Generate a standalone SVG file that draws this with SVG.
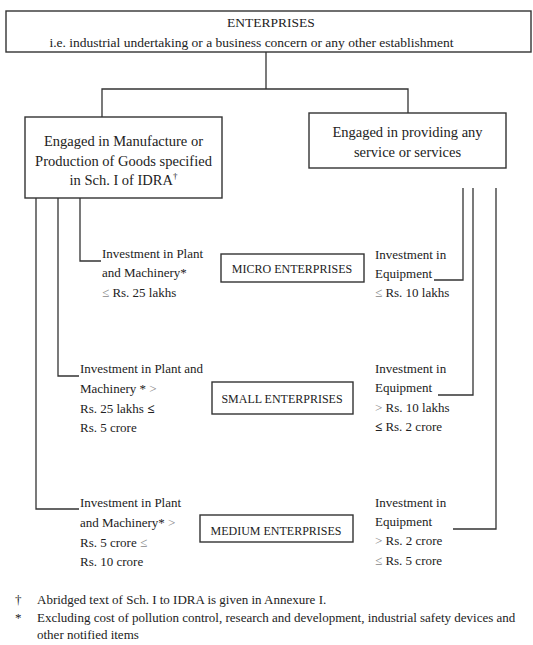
<svg xmlns="http://www.w3.org/2000/svg" width="533" height="645" viewBox="0 0 533 645">
<style>
text{font-family:"Liberation Serif","Times New Roman",serif;fill:#222}
.box{fill:#fff;stroke:#333;stroke-width:1.4}
.ln{fill:none;stroke:#333;stroke-width:1.3}
.bx{font-size:14.5px;text-anchor:middle}
.top{font-size:13.5px;text-anchor:middle}
.mid{font-size:12px;text-anchor:middle}
.lbl{font-size:13px}
.ft{font-size:13px}
.g{fill:#888}
.b{font-weight:bold}
</style>
<rect width="533" height="645" fill="#fff"/>
<g id="connectors">
<polyline class="ln" points="266,52 266,89"/>
<polyline class="ln" points="102,117 102,89 408,89 408,113"/>
<polyline class="ln" points="80,198 80,261 101,261"/>
<polyline class="ln" points="58,198 58,376 79,376"/>
<polyline class="ln" points="36,198 36,509 79,509"/>
<polyline class="ln" points="463,188 463,280 434,280"/>
<polyline class="ln" points="473,188 473,395 438,395"/>
<polyline class="ln" points="496,188 496,529 453,529"/>
</g>
<g id="enterprises">
<rect class="box" x="6" y="11" width="525" height="41"/>
<text class="top" x="271" y="27">ENTERPRISES</text>
<text class="top" x="251.5" y="47">i.e. industrial undertaking or a business concern or any other establishment</text>
</g>
<g id="manufacture">
<rect class="box" x="25" y="117" width="197" height="81"/>
<text class="bx" x="123.5" y="146">Engaged in Manufacture or</text>
<text class="bx" x="123.5" y="166">Production of Goods specified</text>
<text class="bx" x="123.5" y="185">in Sch. I of IDRA<tspan font-size="9" dy="-6">†</tspan></text>
</g>
<g id="services">
<rect class="box" x="309" y="113" width="197" height="55"/>
<text class="bx" x="407.5" y="137">Engaged in providing any</text>
<text class="bx" x="407.5" y="157">service or services</text>
</g>
<g id="micro">
<rect class="box" x="221" y="254" width="143" height="28"/>
<text class="mid" x="292" y="273">MICRO ENTERPRISES</text>
</g>
<g id="small">
<rect class="box" x="212" y="382" width="141" height="32"/>
<text class="mid" x="282" y="403">SMALL ENTERPRISES</text>
</g>
<g id="medium">
<rect class="box" x="200" y="515" width="153" height="27"/>
<text class="mid" x="276" y="535">MEDIUM ENTERPRISES</text>
</g>
<g id="micro-manufacture">
<text class="lbl" x="102" y="258">Investment in Plant</text>
<text class="lbl" x="102" y="277">and Machinery*</text>
<text class="lbl" x="102" y="297"><tspan class="g">≤</tspan> Rs. 25 lakhs</text>
</g>
<g id="micro-service">
<text class="lbl" x="375" y="259">Investment in</text>
<text class="lbl" x="375" y="278">Equipment</text>
<text class="lbl" x="375" y="297"><tspan class="g">≤</tspan> Rs. 10 lakhs</text>
</g>
<g id="small-manufacture">
<text class="lbl" x="80" y="373">Investment in Plant and</text>
<text class="lbl" x="80" y="393">Machinery * <tspan class="g">&gt;</tspan></text>
<text class="lbl" x="80" y="413">Rs. 25 lakhs <tspan class="b">≤</tspan></text>
<text class="lbl" x="80" y="432">Rs. 5 crore</text>
</g>
<g id="small-service">
<text class="lbl" x="375" y="373">Investment in</text>
<text class="lbl" x="375" y="392">Equipment</text>
<text class="lbl" x="375" y="412"><tspan class="g">&gt;</tspan> Rs. 10 lakhs</text>
<text class="lbl" x="375" y="431"><tspan class="b">≤</tspan> Rs. 2 crore</text>
</g>
<g id="medium-manufacture">
<text class="lbl" x="80" y="507">Investment in Plant</text>
<text class="lbl" x="80" y="527">and Machinery* <tspan class="g">&gt;</tspan></text>
<text class="lbl" x="80" y="547">Rs. 5 crore <tspan class="g">≤</tspan></text>
<text class="lbl" x="80" y="566">Rs. 10 crore</text>
</g>
<g id="medium-service">
<text class="lbl" x="375" y="507">Investment in</text>
<text class="lbl" x="375" y="526">Equipment</text>
<text class="lbl" x="375" y="545"><tspan class="g">&gt;</tspan> Rs. 2 crore</text>
<text class="lbl" x="375" y="565"><tspan class="g">≤</tspan> Rs. 5 crore</text>
</g>
<g id="footnotes">
<text class="ft" x="15" y="604">†</text>
<text class="ft" x="37" y="604">Abridged text of Sch. I to IDRA is given in Annexure I.</text>
<text class="ft" x="15" y="622">*</text>
<text class="ft" x="37" y="622">Excluding cost of pollution control, research and development, industrial safety devices and</text>
<text class="ft" x="37" y="639">other notified items</text>
</g>
</svg>
